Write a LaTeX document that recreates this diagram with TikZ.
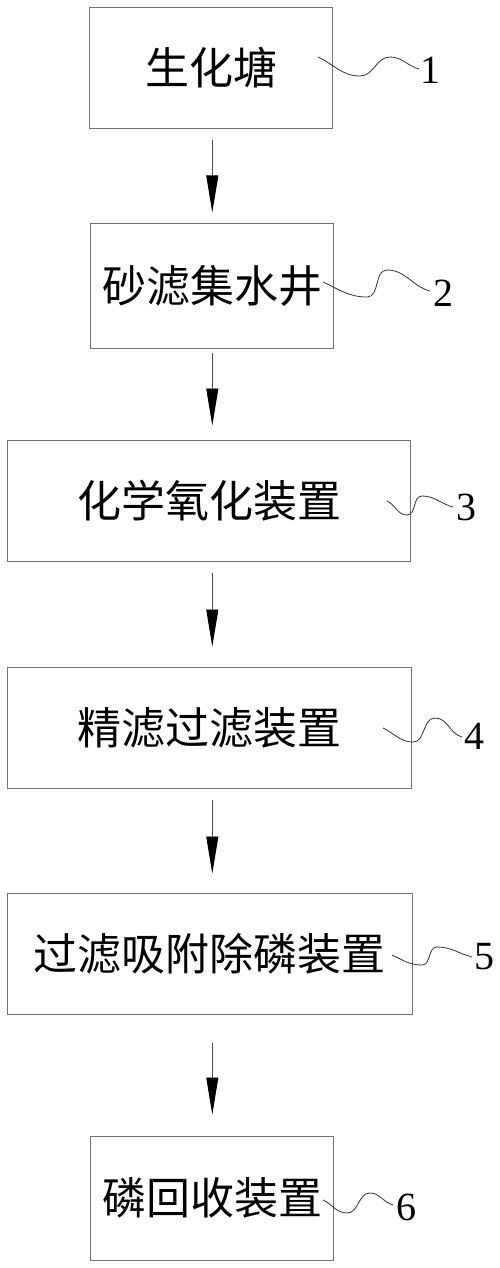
\documentclass[tikz,border=0pt]{standalone}
\usepackage{fontspec}
\newfontfamily\cjk{Noto Sans CJK SC}
\newfontfamily\numfont{Liberation Serif}
\usetikzlibrary{arrows.meta,calc}
\tikzset{
  box/.style={draw=black!55, line width=1pt, inner sep=0pt, font=\cjk\fontsize{44}{50}\selectfont},
  flow/.style={draw=black!70, line width=0.9pt, -{Triangle[length=37pt,width=12pt,color=black]}},
  lead/.style={draw=black!80, line width=0.8pt},
  num/.style={inner sep=0pt, font=\numfont\fontsize{40}{44}\selectfont}
}
\begin{document}
\begin{tikzpicture}[x=1pt,y=-1pt]
\useasboundingbox (0,0) rectangle (500,1268);
% boxes
\node[box, minimum width=243pt, minimum height=121pt] (b1) at (211,67.7) {生化塘};
\node[box, minimum width=243pt, minimum height=125pt] (b2) at (212.3,285.5) {砂滤集水井};
\node[box, minimum width=403pt, minimum height=121pt] (b3) at (209,500.5) {化学氧化装置};
\node[box, minimum width=404pt, minimum height=121pt] (b4) at (209.5,727.5) {精滤过滤装置};
\node[box, minimum width=405pt, minimum height=121pt] (b5) at (209.7,953.5) {过滤吸附除磷装置};
\node[box, minimum width=243pt, minimum height=124pt] (b6) at (212.3,1198) {磷回收装置};
% arrows
\draw[flow, shorten <=11pt, shorten >=10pt] (b1.south -| b2) -- (b2.north);
\draw[flow, shorten <=4pt, shorten >=14pt] (b2.south) -- (b3.north -| b2);
\draw[flow, shorten <=11pt, shorten >=20pt] (b3.south -| b2) -- (b4.north -| b2);
\draw[flow, shorten <=11pt, shorten >=19pt] (b4.south -| b2) -- (b5.north -| b2);
\draw[flow, shorten <=28pt, shorten >=21pt] (b5.south -| b2) -- (b6.north);
% labels
\node[num] (n1) at (430,70) {1};
\node[num] (n2) at (443,293) {2};
\node[num] (n3) at (466,507) {3};
\node[num] (n4) at (474,736) {4};
\node[num] (n5) at (484,957) {5};
\node[num] (n6) at (406,1207) {6};
% leader squiggles
\coordinate (s1) at (318,57);  \coordinate (e1) at (419,69);
\coordinate (s2) at (323,282); \coordinate (e2) at (430,291);
\coordinate (s3) at (387,501); \coordinate (e3) at (453,507);
\coordinate (s4) at (383,728); \coordinate (e4) at (462,737);
\coordinate (s5) at (392,955); \coordinate (e5) at (472,957);
\coordinate (s6) at (323,1200); \coordinate (e6) at (393,1205);
\draw[lead] (s1) to[out=-25,in=180] (360,76) to[out=0,in=180] (390,57) to[out=0,in=165] (e1);
\draw[lead] (s2) to[out=-25,in=180] (367,297) to[out=0,in=180] (387,270) to[out=0,in=165] (e2);
\draw[lead] (s3) to[out=-25,in=180] (407,515) to[out=0,in=180] (422,496) to[out=0,in=165] (e3);
\draw[lead] (s4) to[out=-25,in=180] (413,742) to[out=0,in=180] (435,718) to[out=0,in=165] (e4);
\draw[lead] (s5) to[out=-25,in=180] (422,965) to[out=0,in=180] (437,947) to[out=0,in=165] (e5);
\draw[lead] (s6) to[out=-25,in=180] (347,1213) to[out=0,in=180] (370,1193) to[out=0,in=165] (e6);
\end{tikzpicture}
\end{document}
